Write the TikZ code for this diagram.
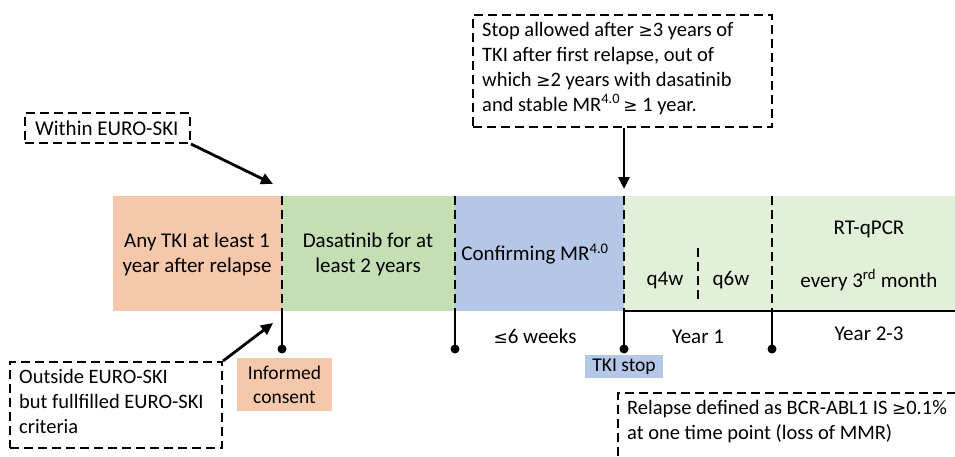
\documentclass[tikz,border=0pt]{standalone}
\usepackage{fontspec}
\setmainfont{Carlito}
\newfontfamily\symfont{DejaVu Sans}
\usetikzlibrary{arrows.meta}
\definecolor{cOrange}{HTML}{F6C8AB}
\definecolor{cGreen}{HTML}{C5DFB4}
\definecolor{cBlue}{HTML}{B4C7E6}
\definecolor{cLight}{HTML}{E2EFD9}
\newcommand{\mygeq}{{\symfont\fontsize{17}{20}\selectfont ≥}}
\newcommand{\myleq}{{\symfont\fontsize{17}{20}\selectfont ≤}}
\tikzset{
  txt/.style={font=\fontsize{21}{25}\selectfont, align=center, inner sep=0pt, text=black},
  boxtxt/.style={font=\fontsize{20.5}{25}\selectfont, align=left, inner sep=0pt, text=black, anchor=north west},
  dbox/.style={draw, line width=2pt, dash pattern=on 9pt off 5pt, inner sep=0pt},
  vdash/.style={line width=2.8pt, dash pattern=on 9pt off 5pt},
  vsolid/.style={line width=2.5pt},
  dot/.style={circle, fill=black, inner sep=0pt, minimum size=9pt},
  arr/.style={line width=2.8pt, -{Triangle[length=12pt,width=11pt]}},
}
\begin{document}
\begin{tikzpicture}[x=1pt,y=-1pt]
\useasboundingbox (0,0) rectangle (955,456);
% bands
\fill[cOrange] (113,196) rectangle (282,311);
\fill[cGreen] (282,196) rectangle (455,311);
\fill[cBlue] (455,196) rectangle (624,311);
\fill[cLight] (624,196) rectangle (955,311);
% band texts
\node[txt] (t1) at (197,254) {Any TKI at least 1\\year after relapse};
\node[txt] (t2) at (368,254) {Dasatinib for at\\least 2 years};
\node[txt] (t3) at (535,254) {Confirming MR\textsuperscript{4.0}};
\node[txt] (q4) at (665,280) {q4w};
\node[txt] (q6) at (731,280) {q6w};
\node[txt] (rt) at (869,229) {RT-qPCR};
\node[txt] (ev) at (869,280) {every 3\textsuperscript{rd} month};
% boundaries
\coordinate (a1) at (282,196); \coordinate (a2) at (282,311); \node[dot] (d1) at (282,349) {};
\coordinate (b1) at (455,196); \coordinate (b2) at (455,311); \node[dot] (d2) at (455,349) {};
\coordinate (c1) at (624,196); \coordinate (c2) at (624,311); \node[dot] (d3) at (624,349) {};
\coordinate (e1) at (772,196); \coordinate (e2) at (772,311); \node[dot] (d4) at (772,349) {};
\coordinate (f1) at (698,248); \coordinate (f2) at (698,300);
\coordinate (rEnd) at (955,311);
\draw[vdash] (a1) -- (a2);
\draw[vdash] (b1) -- (b2);
\draw[vdash] (c1) -- (c2);
\draw[vdash] (e1) -- (e2);
\draw[vdash] (f1) -- (f2);
\draw[vsolid] (a2) -- (d1.center);
\draw[vsolid] (b2) -- (d2.center);
\draw[vsolid] (c2) -- (d3.center);
\draw[vsolid] (e2) -- (d4.center);
\draw[vsolid] (c2) -- (rEnd);
% timeline labels
\node[txt] (w6) at (535,336) {\myleq6 weeks};
\node[txt] (y1) at (698,337) {Year 1};
\node[txt] (y23) at (869,334) {Year 2-3};
% label boxes
\node[fill=cOrange, minimum width=95pt, minimum height=53pt, inner sep=0pt] (ic) at (284.5,384.5) {};
\node[txt, font=\fontsize{19.5}{24}\selectfont] at (ic) {Informed\\consent};
\node[fill=cBlue, minimum width=78pt, minimum height=23pt, inner sep=0pt] (ts) at (624,366.5) {};
\node[txt, font=\fontsize{19.5}{24}\selectfont] at (ts) {TKI stop};
% dashed text boxes
\node[dbox, minimum width=165pt, minimum height=30pt] (within) at (107.5,128) {};
\node[txt, anchor=west] at (35,128) {Within EURO-SKI};
\node[dbox, minimum width=212pt, minimum height=86pt] (outside) at (116,405) {};
\node[boxtxt] at (19,369) {Outside EURO-SKI\\but fullfilled EURO-SKI\\criteria};
\node[dbox, minimum width=299pt, minimum height=112pt] (stop) at (622.5,71) {};
\node[boxtxt] at (482,22) {Stop allowed after \mygeq3 years of\\TKI after first relapse, out of\\which \mygeq2 years with dasatinib\\and stable MR\textsuperscript{4.0}\,\mygeq{} 1 year.};
\begin{scope}
\clip (0,0) rectangle (955,456);
\node[dbox, minimum width=360pt, minimum height=80pt] (relapse) at (798,433) {};
\end{scope}
\node[boxtxt] at (627,400) {Relapse defined as BCR-ABL1 IS \mygeq0.1\%\\at one time point (loss of MMR)};
% arrows
\coordinate (p1) at (273,184);
\coordinate (p2) at (273,323);
\coordinate (p3) at (624,189);
\draw[arr] (within.south east) -- (p1);
\draw[arr] (outside.north east) -- (p2);
\draw[arr] (stop.south -| c1) -- (p3);
\end{tikzpicture}
\end{document}
